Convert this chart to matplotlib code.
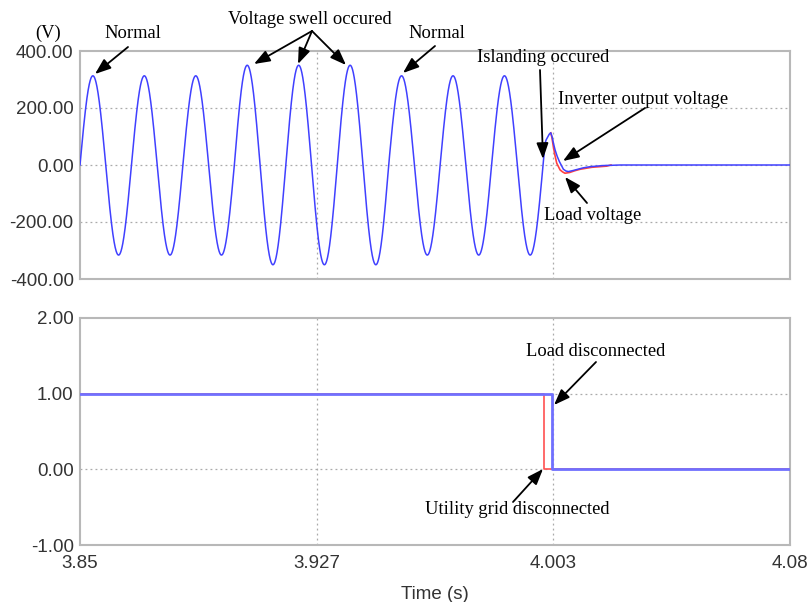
import numpy as np
import matplotlib
matplotlib.use("Agg")
import matplotlib.pyplot as plt

# ---------------- data ----------------
freq_hz = 60.0
t_start, t_island, t_end = 3.85, 4.0, 4.08
# peak value of each half cycle, 3.85 s .. 4.00 s
half_cycle_peaks = [313, 316, 313, 316, 313, 316,      # normal
                    350, 350, 350, 350, 350, 350,      # voltage swell
                    313, 316, 313, 316, 313, 316]      # normal

# transient after islanding (ms after 4.0 s, volts)
inv_ms = [0.0, 0.3, 0.65, 1.0, 1.5, 2.0, 2.5, 2.9, 3.4, 3.9, 4.6, 5.3, 6.0,
          6.6, 7.4, 8.2, 9.5, 11.3, 13.0, 15.2, 19.4, 25.0]
inv_v = [0, 36, 76, 88, 98, 108, 113, 100, 75, 53, 30, 12, -3,
         -15, -21, -23, -20, -15, -10, -6, -2, 0]
# load voltage departs from the inverter voltage after the peak
load_ms = [2.5, 2.9, 3.34, 3.9, 4.44, 5.0, 5.5,
           6.3, 7.1, 8.7, 10.3, 12.0, 15.8, 20.6, 22.0]
load_v = [113, 95, 64, 32, 6, -6, -17,
          -24, -29, -26, -20, -15, -8, -4, 0]

# switching signals
load_sw_t = [3.85, 4.0028, 4.08]
load_sw = [1, 0, 0]
grid_sw_t = [3.85, 4.0003, 4.08]
grid_sw = [1, 0, 0]

xticks = [3.85, 3.85 + 0.23 / 3, 3.85 + 0.46 / 3, 4.08]
xticklabels = ["3.85", "3.927", "4.003", "4.08"]
top_yticks = [-400, -200, 0, 200, 400]
bot_yticks = [-1, 0, 1, 2]

# ---------------- build waveforms ----------------
t_sine = np.linspace(t_start, t_island, 3000)
phase = 2 * np.pi * freq_hz * (t_sine - t_start)
idx = np.minimum((phase // np.pi).astype(int), len(half_cycle_peaks) - 1)
v_sine = np.array(half_cycle_peaks)[idx] * np.sin(phase)

t_inv = np.concatenate([t_sine, t_island + np.array(inv_ms[1:]) / 1000.0, [t_end]])
v_inv = np.concatenate([v_sine, np.array(inv_v[1:], float), [0.0]])
t_load = t_island + np.array(load_ms) / 1000.0
v_load = np.array(load_v, float)

# ---------------- figure ----------------
fig = plt.figure(figsize=(8.1, 6.02), dpi=100)
ax1 = fig.add_axes([80 / 810, 1 - 279 / 602, 710 / 810, 228 / 602])
ax2 = fig.add_axes([80 / 810, 1 - 545 / 602, 710 / 810, 227 / 602])

tick_font = dict(family="Liberation Sans", size=13.5, color="#333333")
serif = ["Liberation Serif", "DejaVu Serif"]

grid_kw = dict(color="#aaaaaa", linestyle=(0, (1.5, 2.5)), linewidth=0.9)

for ax in (ax1, ax2):
    ax.set_xlim(t_start, t_end)
    for s in ax.spines.values():
        s.set_color("#b8b8b8")
        s.set_linewidth(1.5)
    ax.tick_params(length=0, pad=4.5)
    for x in xticks[1:-1]:
        ax.axvline(x, zorder=0, **grid_kw)
    ax.set_xticks(xticks)

# top panel
ax1.set_ylim(-400, 400)
ax1.set_yticks(top_yticks)
ax1.set_yticklabels([f"{v:.2f}" for v in top_yticks], **tick_font)
ax1.set_xticklabels([])
for y in top_yticks[1:-1]:
    ax1.axhline(y, zorder=0, **grid_kw)
ax1.plot(t_load, v_load, color="#ff4040", lw=1.2, zorder=2)
ax1.plot(t_inv, v_inv, color="#4040ff", lw=1.1, zorder=3)

# bottom panel
ax2.set_ylim(-1, 2)
ax2.set_yticks(bot_yticks)
ax2.set_yticklabels([f"{v:.2f}" for v in bot_yticks], **tick_font)
ax2.set_xticklabels(xticklabels, **tick_font)
ax2.tick_params(axis="x", pad=7)
for y in bot_yticks[1:-1]:
    ax2.axhline(y, zorder=0, **grid_kw)
ax2.step(grid_sw_t, grid_sw, where="post", color="#ff5050", lw=1.2, zorder=2)
ax2.step(load_sw_t, load_sw, where="post", color="#7070ff", lw=2.0, zorder=3)
ax2.set_xlabel("Time (s)", fontfamily="Liberation Sans", fontsize=13.5,
               color="#333333", labelpad=10)

# ---------------- annotations ----------------
def px(x, y):
    return (x / 810, 1 - y / 602)

arrow = dict(arrowstyle="-|>,head_length=0.8,head_width=0.3", color="black",
             lw=1.3, shrinkA=0, shrinkB=0, mutation_scale=12)
fs = 13.3

def ann(text, tx, ty, ax_from, ay_from, ax_to, ay_to):
    fig.text(*px(tx, ty), text, family=serif, fontsize=fs, ha="center",
             va="center")
    for (x0, y0, x1, y1) in zip(ax_from, ay_from, ax_to, ay_to):
        fig.add_artist(matplotlib.patches.FancyArrowPatch(
            px(x0, y0), px(x1, y1), transform=fig.transFigure, **arrow))

fig.text(*px(48, 33), "(V)", family=serif, fontsize=fs, ha="center", va="center")
ann("Normal", 133, 33, [128], [47], [95], [74])
ann("Voltage swell occured", 310, 20, [312, 312, 312], [31, 31, 31],
    [254, 298, 346], [64, 64, 65])
ann("Normal", 437, 33, [435], [46], [403], [73])
ann("Islanding occured", 543, 58, [540], [70], [543], [159])
ann("Inverter output voltage", 643, 100, [645], [108], [563], [161])
ann("Load voltage", 593, 215, [587], [203], [565], [177])
ann("Load disconnected", 596, 352, [596], [362], [554], [405])
ann("Utility grid disconnected", 517, 510, [513], [502], [543], [469])

fig.savefig("out.png", dpi=100)
